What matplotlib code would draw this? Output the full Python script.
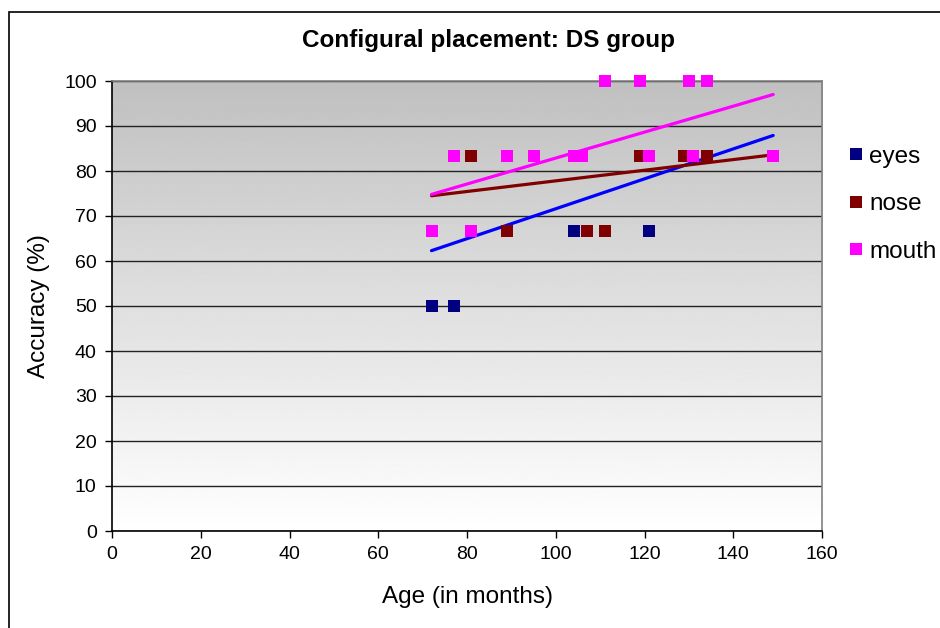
"""
    Configural placement: DS group scatter with trend lines
"""

import numpy as np
import matplotlib.pyplot as plt
from matplotlib.lines import Line2D

plt.rcParams['font.family'] = ['Liberation Sans', 'DejaVu Sans']

# data
eyes_age = [72, 77, 104, 121]
eyes_acc = [50, 50, 66.7, 66.7]

nose_age = [81, 89, 107, 111, 119, 129, 134, 149]
nose_acc = [83.3, 66.7, 66.7, 66.7, 83.3, 83.3, 83.3, 83.3]

mouth_age = [72, 77, 81, 89, 95, 104, 106, 111, 119, 121, 130, 131, 134, 149]
mouth_acc = [66.7, 83.3, 66.7, 83.3, 83.3, 83.3, 83.3, 100, 100, 83.3, 100, 83.3, 100, 83.3]

# linear trend lines (start / end values at the age range ends)
trend_age = [72, 149]
eyes_trend = [62.3, 87.9]
nose_trend = [74.5, 83.6]
mouth_trend = [74.8, 97.0]

series = ['eyes', 'nose', 'mouth']
marker_colors = ['#000080', '#800000', '#FF00FF']
trend_colors = ['#0000FF', '#800000', '#FF00FF']

fig = plt.figure(figsize=(9.4, 6.28), dpi=100)
ax = fig.add_axes([112 / 940, 97 / 628, 710 / 940, 450 / 628])

# grey (top) to white (bottom) plot area
grad = np.linspace(192, 255, 256).reshape(-1, 1) / 255.0
ax.imshow(grad, extent=[0, 160, 0, 100], origin='upper', cmap='gray',
          vmin=0, vmax=1, aspect='auto', zorder=0)

ax.set_xlim(0, 160)
ax.set_ylim(0, 100)
ax.set_xticks(range(0, 161, 20))
ax.set_yticks(range(0, 101, 10))
ax.grid(True, axis='y', color='#222222', linewidth=1.0, zorder=1)

for vals, col in zip([eyes_trend, nose_trend, mouth_trend], trend_colors):
    ax.plot(trend_age, vals, color=col, linewidth=2.3, solid_capstyle='round', zorder=2)

for (a, v), col in zip([(eyes_age, eyes_acc), (nose_age, nose_acc), (mouth_age, mouth_acc)],
                       marker_colors):
    ax.plot(a, v, linestyle='none', marker='s', markersize=8, color=col,
            markeredgewidth=0, zorder=3, clip_on=False)

for side in ['left', 'bottom']:
    ax.spines[side].set_color('black')
    ax.spines[side].set_linewidth(1.2)
for side in ['top', 'right']:
    ax.spines[side].set_color('#808080')
    ax.spines[side].set_linewidth(1.2)

ax.tick_params(axis='both', direction='out', length=5, width=1, labelsize=14,
               colors='black', pad=6)
ax.set_xlabel('Age (in months)', fontsize=17.5, labelpad=16)
ax.set_ylabel('Accuracy (%)', fontsize=17.5, labelpad=10)
fig.text(488 / 940, 1 - 41 / 628, 'Configural placement: DS group', fontsize=17.5,
         fontweight='bold', ha='center', va='center')

handles = [Line2D([], [], linestyle='none', marker='s', markersize=8,
                  color=c, markeredgewidth=0) for c in marker_colors]
fig.legend(handles, series, loc='upper left', bbox_to_anchor=(839 / 940, 1 - 136 / 628),
           frameon=False, fontsize=17.5, handlelength=0.6, handletextpad=0.25,
           labelspacing=1.05, borderaxespad=0)

# outer chart border
fig.add_artist(plt.Rectangle((9 / 940, -0.1), 1.0, 1 - 12 / 628 + 0.1,
                             transform=fig.transFigure, fill=False,
                             edgecolor='black', linewidth=1.2))

fig.savefig('out.png', dpi=100)
